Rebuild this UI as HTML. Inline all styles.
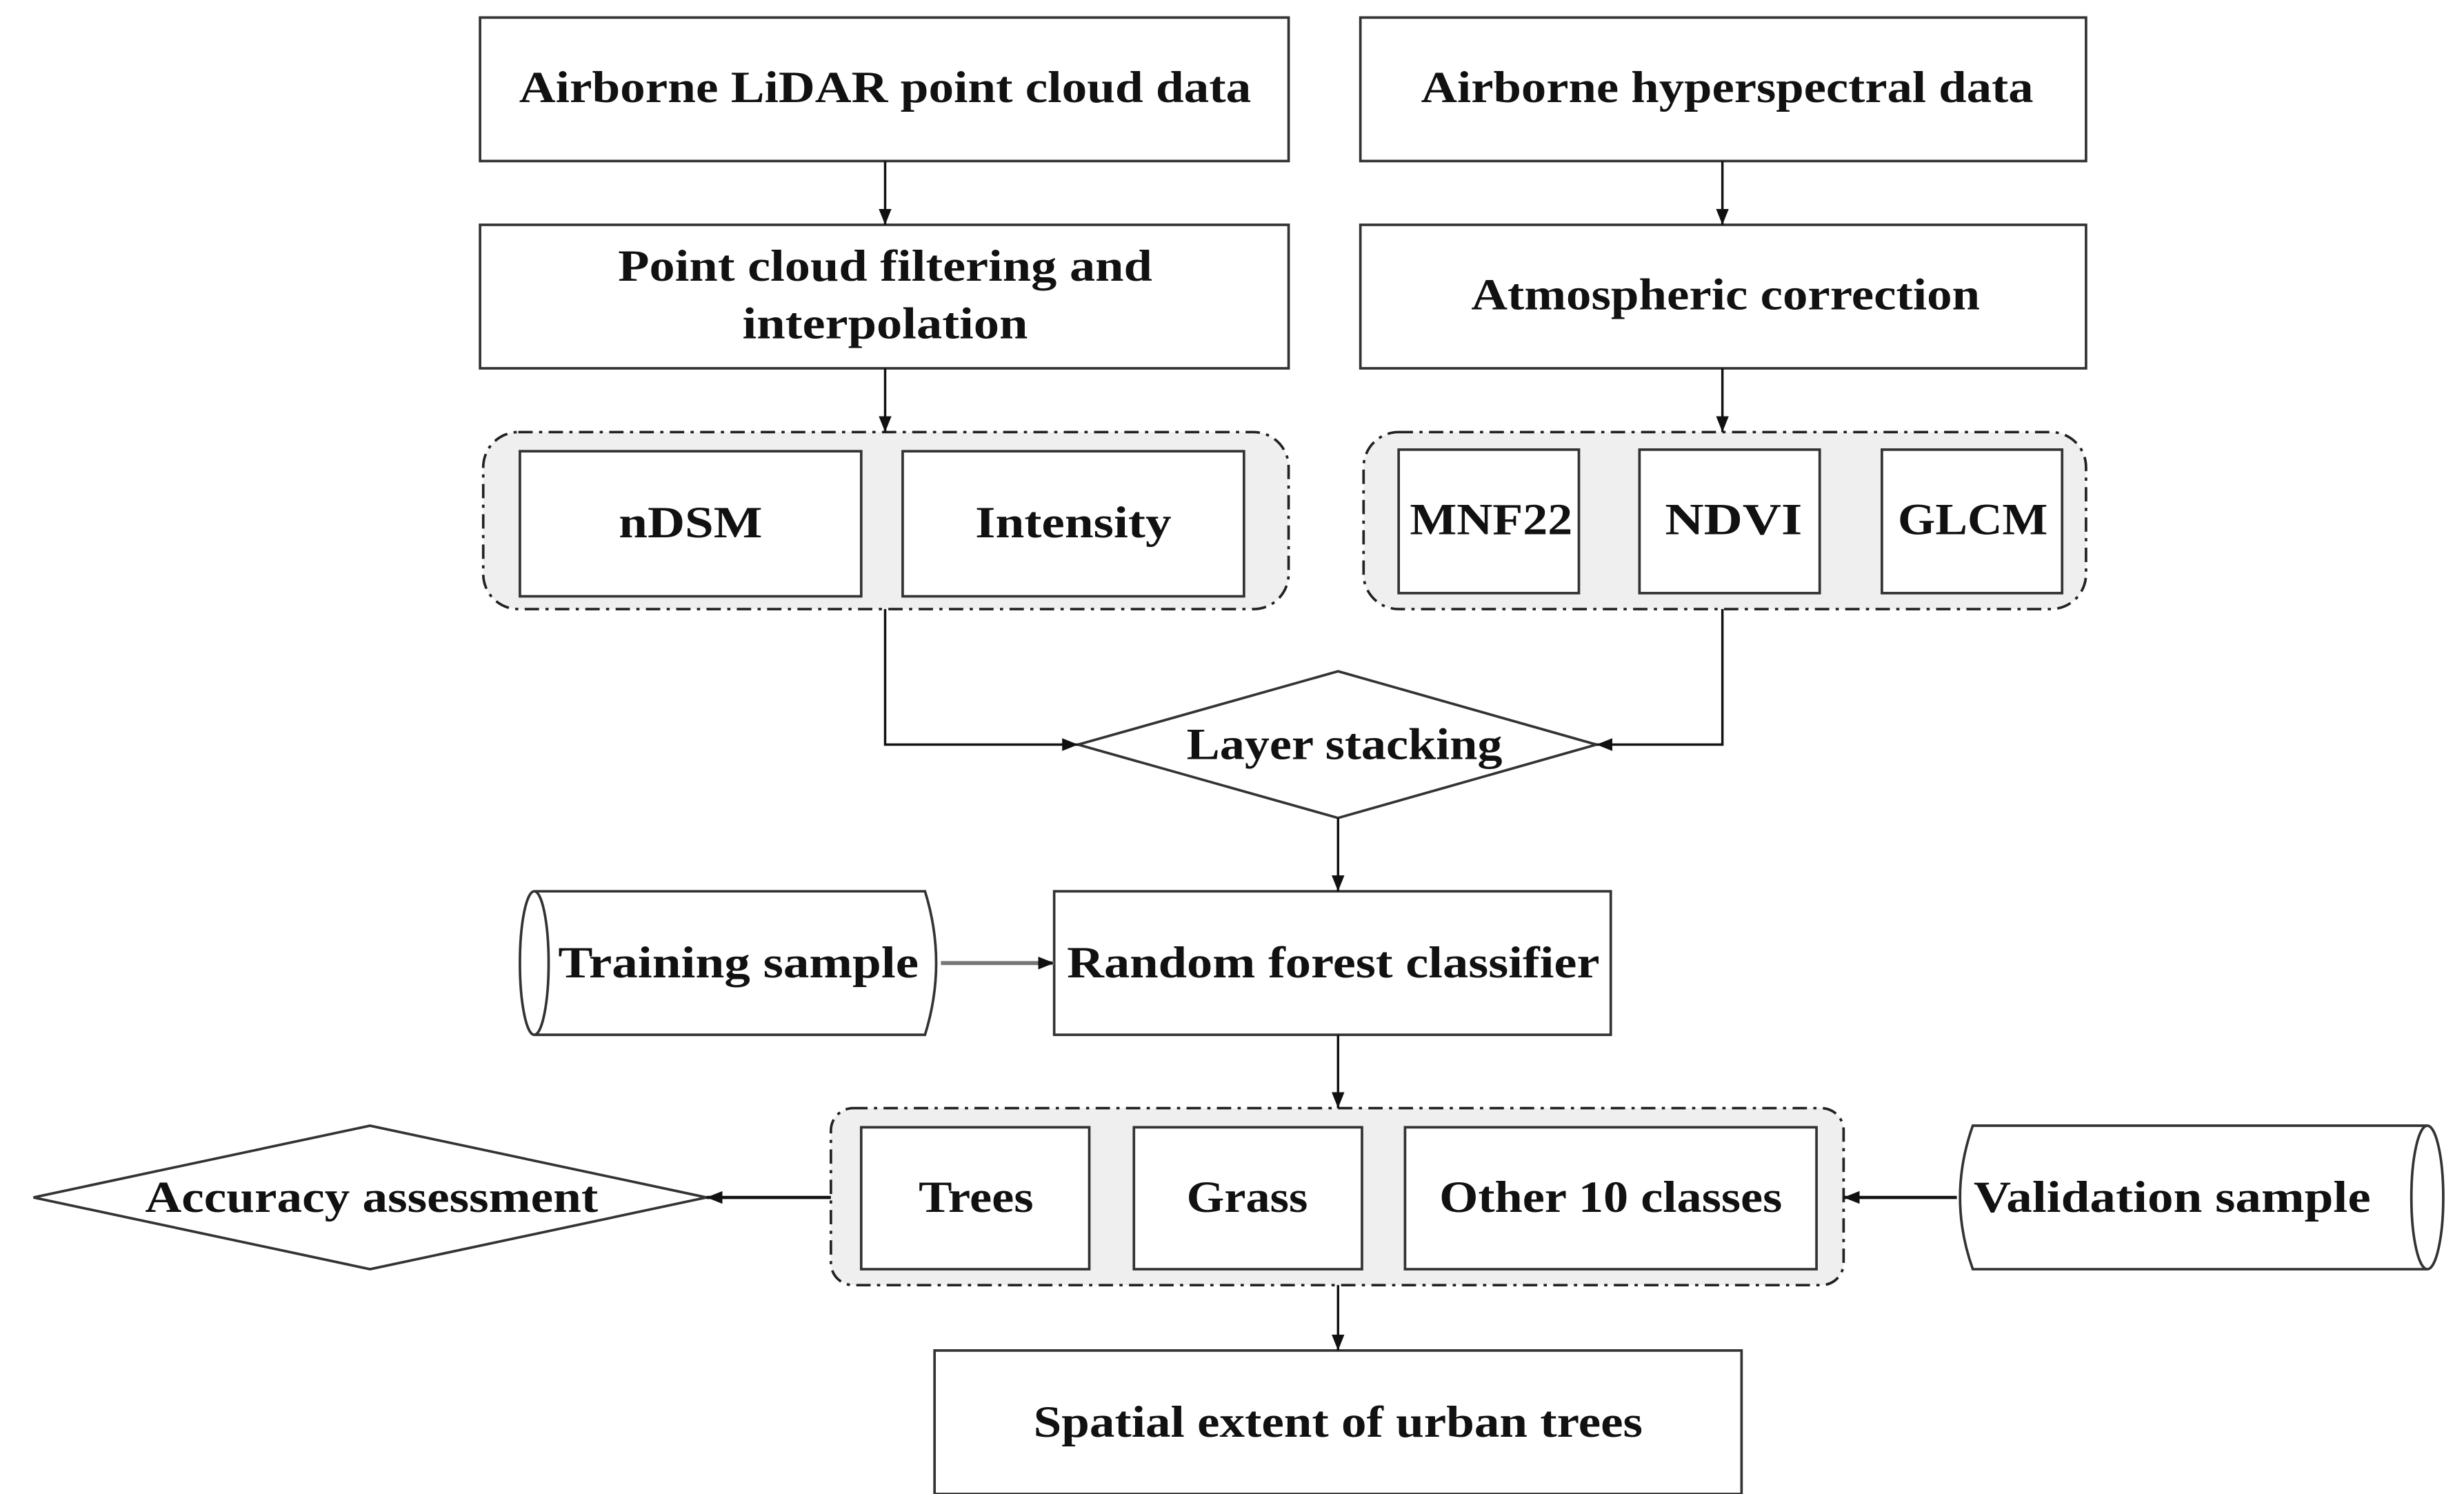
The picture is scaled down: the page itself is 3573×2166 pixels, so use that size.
<!DOCTYPE html>
<html><head><meta charset="utf-8"><style>
html,body{margin:0;padding:0;background:#fff}
svg{display:block}
text{font-family:"Liberation Serif",serif;font-weight:bold;font-size:28px;fill:#111;text-anchor:middle;dominant-baseline:central}
</style></head><body>
<svg width="3573" height="2166" viewBox="0 0 1545 937" preserveAspectRatio="none" xmlns="http://www.w3.org/2000/svg">
<defs>
<marker id="a" viewBox="0 0 10 10" refX="10" refY="5" markerWidth="10" markerHeight="10" markerUnits="userSpaceOnUse" orient="auto"><path d="M0,1 L10,5 L0,9 z" fill="#111"/></marker>
</defs>
<g fill="#fff" stroke="#333" stroke-width="1.6">
<rect x="301" y="11" width="507" height="90"/>
<rect x="853" y="11" width="455" height="90"/>
<rect x="301" y="141" width="507" height="90"/>
<rect x="853" y="141" width="455" height="90"/>
</g>
<g fill="#efefef" stroke="#222" stroke-width="1.6" stroke-dasharray="9,4,2,4">
<rect x="303" y="271" width="505" height="111" rx="22"/>
<rect x="855" y="271" width="453" height="111" rx="22"/>
<rect x="521" y="695" width="635" height="111" rx="14"/>
</g>
<g fill="#fff" stroke="#333" stroke-width="1.6">
<rect x="326" y="283" width="214" height="91"/>
<rect x="566" y="283" width="214" height="91"/>
<rect x="877" y="282" width="113" height="90"/>
<rect x="1028" y="282" width="113" height="90"/>
<rect x="1180" y="282" width="113" height="90"/>
<polygon points="676,467 839,421 1001,467 839,513"/>
<rect x="661" y="559" width="349" height="90"/>
<path d="M335,559 L580,559 Q594,604 580,649 L335,649"/>
<ellipse cx="335" cy="604" rx="9" ry="45"/>
<rect x="540" y="707" width="143" height="89"/>
<rect x="711" y="707" width="143" height="89"/>
<rect x="881" y="707" width="258" height="89"/>
<polygon points="21,751 232,706 443,751 232,796"/>
<path d="M1522,706 L1237,706 Q1221,751 1237,796 L1522,796"/>
<ellipse cx="1522" cy="751" rx="10" ry="45"/>
<rect x="586" y="847" width="506" height="90"/>
</g>
<g stroke="#111" stroke-width="1.5" fill="none" marker-end="url(#a)">
<line x1="555" y1="101" x2="555" y2="141"/>
<line x1="1080" y1="101" x2="1080" y2="141"/>
<line x1="555" y1="231" x2="555" y2="271"/>
<line x1="1080" y1="231" x2="1080" y2="271"/>
<polyline points="555,382 555,467 676,467"/>
<polyline points="1080,382 1080,467 1001,467"/>
<line x1="839" y1="513" x2="839" y2="559"/>
<line x1="590" y1="604" x2="661" y2="604" stroke="#777" stroke-width="2.5"/>
<line x1="839" y1="649" x2="839" y2="695"/>
<line x1="521" y1="751" x2="443" y2="751" stroke-width="2"/>
<line x1="1227" y1="751" x2="1156" y2="751" stroke-width="2"/>
<line x1="839" y1="806" x2="839" y2="847"/>
</g>
<text x="555" y="55" textLength="459" lengthAdjust="spacingAndGlyphs">Airborne LiDAR point cloud data</text>
<text x="1083" y="55" textLength="384" lengthAdjust="spacingAndGlyphs">Airborne hyperspectral data</text>
<text x="555" y="167" textLength="335" lengthAdjust="spacingAndGlyphs">Point cloud filtering and</text>
<text x="555" y="203" textLength="179" lengthAdjust="spacingAndGlyphs">interpolation</text>
<text x="1082" y="185" textLength="319" lengthAdjust="spacingAndGlyphs">Atmospheric correction</text>
<text x="433" y="328" textLength="90" lengthAdjust="spacingAndGlyphs">nDSM</text>
<text x="673" y="328" textLength="123" lengthAdjust="spacingAndGlyphs">Intensity</text>
<text x="935" y="326" textLength="102" lengthAdjust="spacingAndGlyphs">MNF22</text>
<text x="1087" y="326" textLength="86" lengthAdjust="spacingAndGlyphs">NDVI</text>
<text x="1237" y="326" textLength="94" lengthAdjust="spacingAndGlyphs">GLCM</text>
<text x="843" y="467" textLength="198" lengthAdjust="spacingAndGlyphs">Layer stacking</text>
<text x="463" y="604" textLength="226" lengthAdjust="spacingAndGlyphs">Training sample</text>
<text x="836" y="604" textLength="334" lengthAdjust="spacingAndGlyphs">Random forest classifier</text>
<text x="233" y="751" textLength="284" lengthAdjust="spacingAndGlyphs">Accuracy assessment</text>
<text x="612" y="751" textLength="72" lengthAdjust="spacingAndGlyphs">Trees</text>
<text x="782" y="751" textLength="76" lengthAdjust="spacingAndGlyphs">Grass</text>
<text x="1010" y="751" textLength="215" lengthAdjust="spacingAndGlyphs">Other 10 classes</text>
<text x="1362" y="751" textLength="249" lengthAdjust="spacingAndGlyphs">Validation sample</text>
<text x="839" y="892" textLength="382" lengthAdjust="spacingAndGlyphs">Spatial extent of urban trees</text>
</svg>
</body></html>
